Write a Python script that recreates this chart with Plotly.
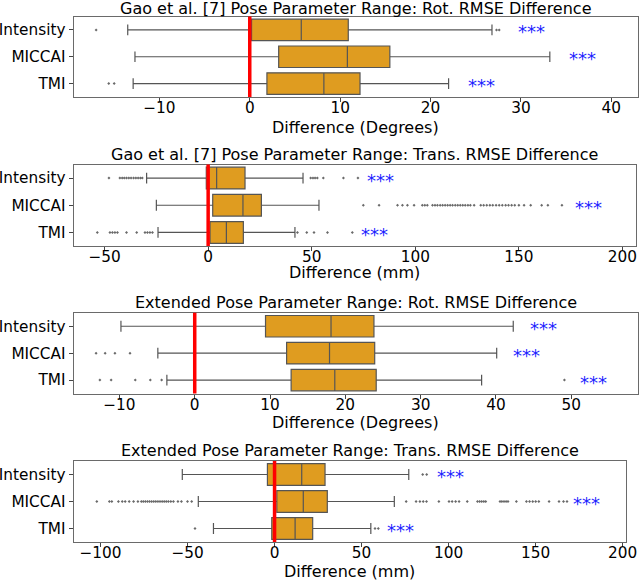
import plotly.graph_objects as go

# ---------------- data ----------------
CATEGORIES = ["Intensity", "MICCAI", "TMI"]

TITLES = [
    "Gao et al. [7] Pose Parameter Range: Rot. RMSE Difference",
    "Gao et al. [7] Pose Parameter Range: Trans. RMSE Difference",
    "Extended Pose Parameter Range: Rot. RMSE Difference",
    "Extended Pose Parameter Range: Trans. RMSE Difference",
]
XLABELS = ["Difference (Degrees)", "Difference (mm)", "Difference (Degrees)", "Difference (mm)"]

REFERENCE_X = 0  # red reference line at zero difference
STAR_TEXT = "***"

# Panel 1: Gao rot
P1_LOW = [-13.5, -12.7, -12.9]
P1_Q1 = [0.2, 3.2, 1.9]
P1_MED = [5.7, 10.8, 8.2]
P1_Q3 = [10.9, 15.5, 12.2]
P1_HIGH = [26.8, 33.2, 22.0]
P1_OUT_INTENSITY = [-17.0, 27.3, 27.6]
P1_OUT_MICCAI = []
P1_OUT_TMI = [-15.6, -15.0]
P1_STAR_X = [31.2, 36.8, 25.6]

# Panel 2: Gao trans
P2_LOW = [-29.7, -25.0, -24.2]
P2_Q1 = [-0.9, 2.2, 0.9]
P2_MED = [4.1, 16.8, 8.8]
P2_Q3 = [17.8, 25.7, 17.0]
P2_HIGH = [45.8, 53.5, 41.9]
P2_OUT_INTENSITY = [-47.9, -42.6, -41.5, -40.5, -39.4, -38.3, -37.2, -36.0, -34.9, -33.8,
                    -32.7, -31.8, 49.5, 50.6, 51.6, 52.7, 55.6, 65.3, 72.3]
P2_OUT_MICCAI = [74.9, 82.5, 91.4, 93.8, 96.2, 99.4, 103.4, 104.6, 105.8, 108.3, 109.5,
                 110.7, 112.0, 113.2, 114.4, 115.6, 116.8, 118.0, 119.3, 120.5, 121.7,
                 122.9, 124.1, 125.4, 126.6, 128.4, 131.6, 133.0, 134.5, 136.0, 137.4,
                 139.0, 140.5, 142.0, 143.6, 145.0, 146.5, 148.0, 150.0, 152.5, 155.7,
                 161.0, 164.0, 170.8]
P2_OUT_TMI = [-53.5, -47.4, -46.2, -45.0, -43.8, -39.4, -34.5, -30.5, -29.3, -28.1,
              -26.9, 43.1, 47.6, 51.1, 57.6, 69.6]
P2_STAR_X = [83.0, 183.6, 80.4]

# Panel 3: Extended rot
P3_LOW = [-9.8, -4.9, -3.7]
P3_Q1 = [9.4, 12.2, 12.8]
P3_MED = [18.1, 17.9, 18.6]
P3_Q3 = [23.8, 23.9, 24.1]
P3_HIGH = [42.3, 40.1, 38.1]
P3_OUT_INTENSITY = []
P3_OUT_MICCAI = [-13.1, -11.9, -10.6, -8.6]
P3_OUT_TMI = [-12.6, -11.1, -7.9, -5.9, -4.4, 49.1]
P3_STAR_X = [46.3, 44.1, 52.9]

# Panel 4: Extended trans
P4_LOW = [-53.0, -43.8, -35.1]
P4_Q1 = [-4.1, 1.3, -1.6]
P4_MED = [15.6, 16.5, 11.8]
P4_Q3 = [29.0, 30.3, 21.9]
P4_HIGH = [77.1, 68.8, 55.3]
P4_OUT_INTENSITY = [85.1, 87.4]
P4_OUT_MICCAI = [-102.1, -94.9, -93.5, -89.7, -87.5, -85.8, -83.5, -81.0, -78.5, -76.5,
                 -75.4, -74.2, -73.0, -71.8, -70.6, -69.4, -68.2, -67.0, -65.8, -64.6,
                 -63.4, -62.2, -61.0, -59.6, -58.1, -55.5, -53.5, -50.0, -47.6,
                 75.6, 81.3, 83.5, 85.4, 87.3, 94.4, 100.2, 102.0, 104.0, 106.0, 110.7,
                 116.6, 117.8, 119.0, 120.2, 121.3, 129.5, 130.6, 131.8, 133.0, 134.1,
                 138.9, 144.7, 146.5, 148.3, 150.0, 151.8, 157.7, 163.4, 166.0, 168.0]
P4_OUT_TMI = [-45.7, 57.7, 59.6]
P4_STAR_X = [100.8, 179.2, 72.5]

# ---------------- style / layout ----------------
W, H = 640, 580
FONT = "DejaVu Sans"
FS = 16
TICK_FS = 15.3
ORANGE = "#DF9C20"
LINE = "#555555"
FRAME = "#6a6a6a"

# plot-area pixel boxes (left, right, top, bottom) and x ranges
BOXES = [(73.5, 637.5, 16.5, 97.0), (73.5, 635.5, 164.5, 246.0),
         (73.5, 637.5, 312.8, 393.5), (73.5, 625.5, 461.0, 542.0)]
XRANGES = [[-19.5, 42.9], [-65.0, 206.3], [-16.1, 58.8], [-115.5, 201.6]]
DTICKS = [10, 50, 10, 50]
TITLE_Y = [8, 155, 302.5, 450]
XLABEL_Y = [127, 272, 422, 571]

panels = [
    (P1_LOW, P1_Q1, P1_MED, P1_Q3, P1_HIGH, [P1_OUT_INTENSITY, P1_OUT_MICCAI, P1_OUT_TMI], P1_STAR_X),
    (P2_LOW, P2_Q1, P2_MED, P2_Q3, P2_HIGH, [P2_OUT_INTENSITY, P2_OUT_MICCAI, P2_OUT_TMI], P2_STAR_X),
    (P3_LOW, P3_Q1, P3_MED, P3_Q3, P3_HIGH, [P3_OUT_INTENSITY, P3_OUT_MICCAI, P3_OUT_TMI], P3_STAR_X),
    (P4_LOW, P4_Q1, P4_MED, P4_Q3, P4_HIGH, [P4_OUT_INTENSITY, P4_OUT_MICCAI, P4_OUT_TMI], P4_STAR_X),
]

fig = go.Figure()
annotations = []
shapes = []
layout_axes = {}

for i, (low, q1, med, q3, high, outs, stars) in enumerate(panels):
    sfx = "" if i == 0 else str(i + 1)
    xa, ya = "x" + sfx, "y" + sfx
    left, right, top, bottom = BOXES[i]

    fig.add_trace(go.Box(
        orientation="h", y=CATEGORIES, q1=q1, median=med, q3=q3,
        lowerfence=low, upperfence=high, xaxis=xa, yaxis=ya,
        fillcolor=ORANGE, line=dict(color=LINE, width=1.2),
        width=0.8, whiskerwidth=0.5, boxpoints=False,
        showlegend=False, hoverinfo="skip"))

    ox, oy = [], []
    for cat, vals in zip(CATEGORIES, outs):
        ox += vals
        oy += [cat] * len(vals)
    fig.add_trace(go.Scatter(
        x=ox, y=oy, mode="markers", xaxis=xa, yaxis=ya,
        marker=dict(symbol="diamond", size=2.3, color="#6a6a6a", line=dict(width=0)),
        showlegend=False, hoverinfo="skip"))

    layout_axes["xaxis" + sfx] = dict(
        domain=[left / W, right / W], anchor=ya, range=XRANGES[i], dtick=DTICKS[i],
        tick0=0, showline=True, mirror=True, linecolor=FRAME, linewidth=1,
        ticks="outside", ticklen=4, tickcolor="#444", showgrid=False, zeroline=False,
        ticklabelstandoff=-7,
        tickfont=dict(family=FONT, size=TICK_FS, color="black"), automargin=False)
    layout_axes["yaxis" + sfx] = dict(
        domain=[1 - bottom / H, 1 - top / H], anchor=xa, type="category",
        categoryorder="array", categoryarray=CATEGORIES, range=[2.5, -0.5],
        showline=True, mirror=True, linecolor=FRAME, linewidth=1,
        ticks="outside", ticklen=4, tickcolor="#444", showgrid=False, zeroline=False,
        tickfont=dict(family=FONT, size=TICK_FS, color="black"), automargin=False)

    shapes.append(dict(type="line", xref=xa, yref=ya + " domain", x0=REFERENCE_X,
                       x1=REFERENCE_X, y0=0, y1=1, line=dict(color="#ff0000", width=3.5),
                       layer="above"))

    cx = (left + right) / 2 / W
    annotations.append(dict(text=TITLES[i], xref="paper", yref="paper", x=cx,
                            y=1 - TITLE_Y[i] / H, xanchor="center", yanchor="middle",
                            showarrow=False, font=dict(family=FONT, size=FS, color="black")))
    annotations.append(dict(text=XLABELS[i], xref="paper", yref="paper", x=cx,
                            y=1 - XLABEL_Y[i] / H, xanchor="center", yanchor="middle",
                            showarrow=False, font=dict(family=FONT, size=FS, color="black")))
    for cat, sx in zip(CATEGORIES, stars):
        annotations.append(dict(text=STAR_TEXT, xref=xa, yref=ya, x=sx, y=cat,
                                xanchor="center", yanchor="middle", showarrow=False,
                                yshift=-2, font=dict(family=FONT, size=18, color="#1f1fff")))

fig.update_layout(
    width=W, height=H, template="none",
    margin=dict(l=0, r=0, t=0, b=0),
    paper_bgcolor="white", plot_bgcolor="white",
    annotations=annotations, shapes=shapes, **layout_axes)

fig.write_html("out.html", config={"displayModeBar": False},
               post_script="document.body.style.margin='0';document.body.style.overflow='hidden';")
